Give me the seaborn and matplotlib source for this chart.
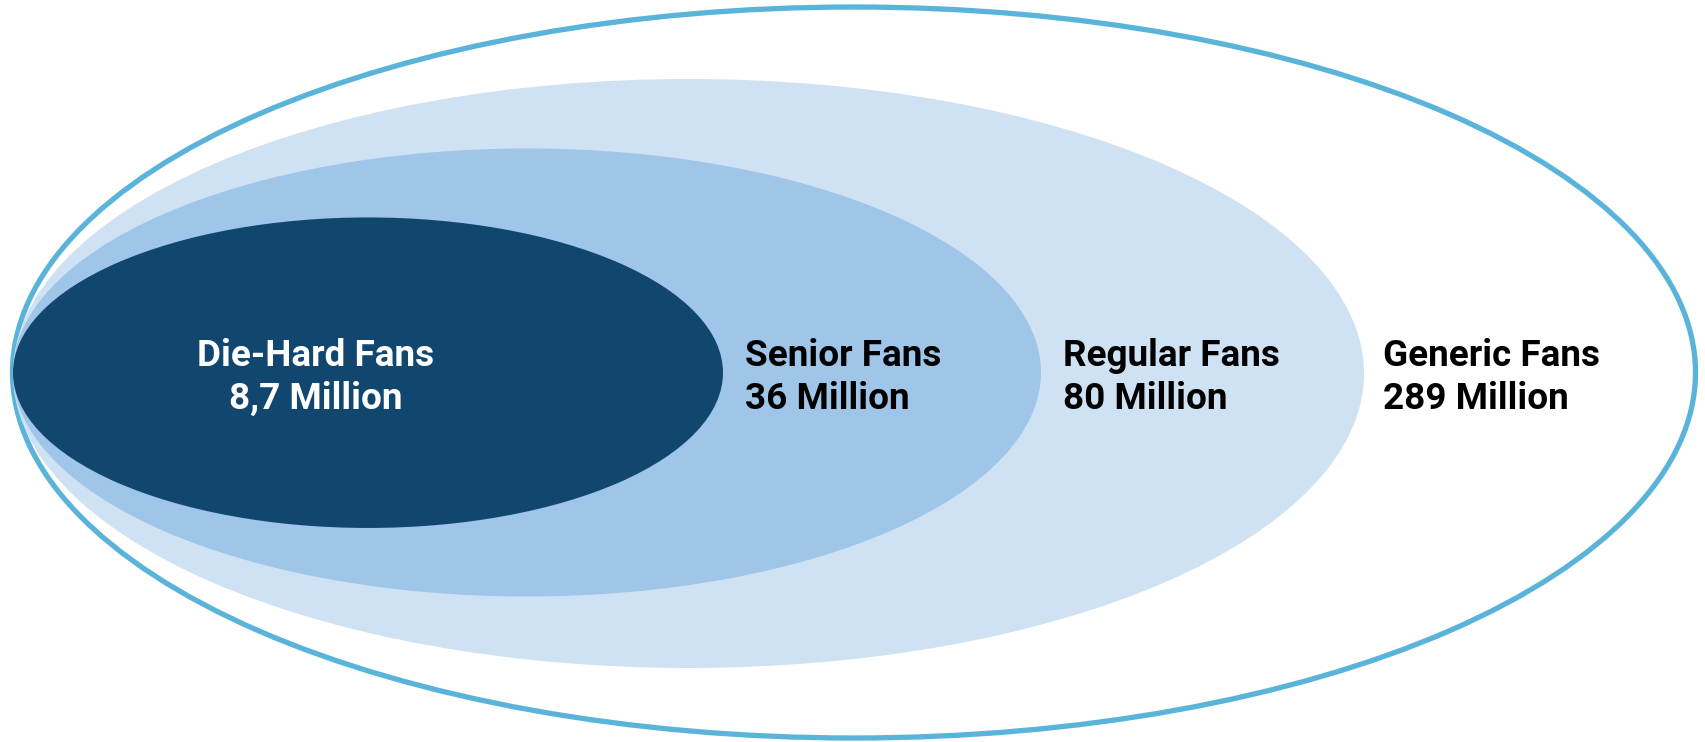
import matplotlib
matplotlib.use("Agg")
import matplotlib.pyplot as plt
from matplotlib.patches import Ellipse
import seaborn as sns

# ---- data ----
segments = ["Generic Fans", "Regular Fans", "Senior Fans", "Die-Hard Fans"]
audience = ["289 Million", "80 Million", "36 Million", "8,7 Million"]

# ---- styling / layout (pixel space of a 1705x742 canvas) ----
sns.set_theme(style="white")
plt.rcParams["font.family"] = ["Roboto", "DejaVu Sans"]

fills = ["white", "#CFE2F3", "#9FC5E8", "#11466F"]
edges = ["#5AB4DA", "none", "none", "none"]
lws = [3.8, 0, 0, 0]
centers = [(854, 372.5), (688.5, 373.5), (527, 372.5), (368, 372.7)]
sizes = [(1683, 731), (1351, 589), (1028, 448), (710, 310.5)]
text_x = [1383, 1063, 745, 316]
text_ha = ["left", "left", "left", "center"]
text_col = ["#000000", "#000000", "#000000", "#FFFFFF"]

fig = plt.figure(figsize=(17.05, 7.42), dpi=100)
ax = fig.add_axes([0, 0, 1, 1])
ax.set_xlim(0, 1705)
ax.set_ylim(742, 0)
ax.axis("off")

for i in range(len(segments)):
    (cx, cy), (w, h) = centers[i], sizes[i]
    ax.add_patch(Ellipse((cx, cy), w, h, facecolor=fills[i],
                         edgecolor=edges[i], linewidth=lws[i], zorder=i + 1))

for i in range(len(segments)):
    ax.text(text_x[i], 355.5, segments[i], ha=text_ha[i], va="center",
            fontsize=26.6, fontweight="bold", color=text_col[i], zorder=10)
    ax.text(text_x[i], 399, audience[i], ha=text_ha[i], va="center",
            fontsize=26.6, fontweight="bold", color=text_col[i], zorder=10)

fig.savefig("out.png", dpi=100)
